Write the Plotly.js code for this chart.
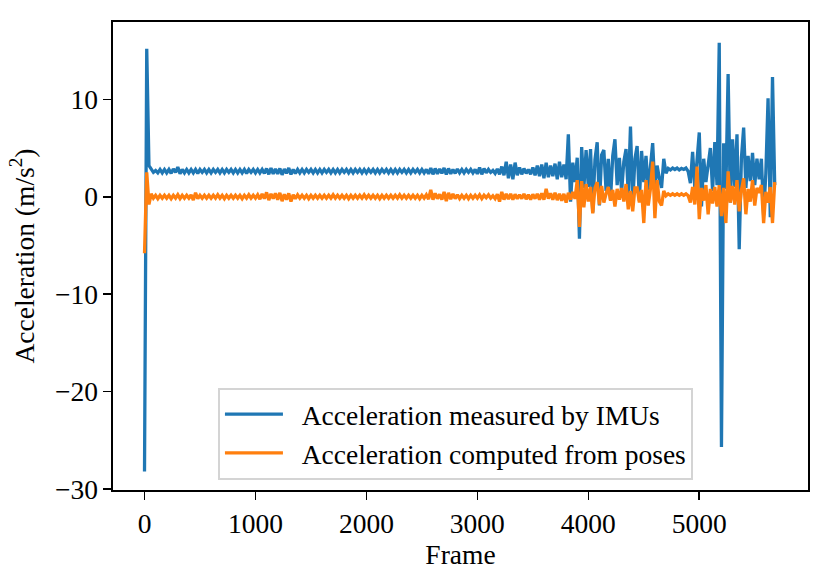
<!DOCTYPE html>
<html>
<head>
<meta charset="utf-8">
<script src="https://cdn.plot.ly/plotly-3.0.1.min.js"></script>
<style>html,body{margin:0;padding:0;background:#fff;}#chart{width:830px;height:571px;}</style>
</head>
<body>
<div id="chart"></div>
<script>
// Frames are sampled every 20 frames starting at frame 0
var frameStart = 0;
var frameStep = 20;

var seriesNames = ["Acceleration measured by IMUs", "Acceleration computed from poses"];

var imuAccel = [
  -28.2, 15.2, 3.2, 2.8, 2.5, 2.7, 2.45, 2.8, 2.45, 2.8,
  2.45, 2.8, 2.4, 2.85, 2.5, 3.05, 2.35, 2.8, 2.45, 2.8,
  2.45, 2.8, 2.45, 2.8, 2.4, 2.8, 2.5, 2.8, 2.45, 2.8,
  2.45, 2.8, 2.5, 2.8, 2.45, 2.8, 2.45, 2.8, 2.5, 2.8,
  2.45, 2.8, 2.45, 2.8, 2.45, 2.8, 2.4, 2.8, 2.5, 2.8,
  2.45, 2.8, 2.45, 2.8, 2.4, 2.9, 2.3, 2.95, 2.35, 2.85,
  2.35, 2.9, 2.25, 2.85, 2.4, 2.95, 2.3, 2.8, 2.4, 2.8,
  2.45, 2.8, 2.45, 2.8, 2.5, 2.8, 2.45, 2.8, 2.45, 2.8,
  2.45, 2.8, 2.5, 2.8, 2.45, 2.8, 2.45, 2.8, 2.45, 2.8,
  2.5, 2.8, 2.45, 2.8, 2.45, 2.8, 2.5, 2.8, 2.45, 2.8,
  2.45, 2.8, 2.5, 2.8, 2.45, 2.8, 2.45, 2.8, 2.5, 2.8,
  2.45, 2.8, 2.45, 2.8, 2.45, 2.8, 2.5, 2.8, 2.45, 2.8,
  2.45, 2.8, 2.5, 2.8, 2.45, 2.8, 2.45, 2.8, 2.35, 2.95,
  2.3, 2.9, 2.35, 2.85, 2.4, 2.95, 2.3, 2.9, 2.35, 2.8,
  2.4, 2.85, 2.45, 2.8, 2.45, 2.8, 2.5, 2.8, 2.45, 2.8,
  2.35, 3.0, 2.3, 2.9, 2.45, 2.8, 2.5, 2.7, 2.4, 2.85,
  2.3, 3.1, 2.2, 3.6, 1.9, 3.3, 1.8, 3.5, 2.2, 3.0,
  2.3, 2.9, 2.4, 2.8, 2.3, 3.0, 2.2, 3.2, 2.1, 3.3,
  1.9, 3.5, 2.0, 3.2, 2.1, 3.4, 1.8, 3.6, 2.0, 3.3,
  1.8, 6.4, -0.5, 3.5, 1.5, 4.0, -4.3, 5.1, 0.9, 4.8,
  1.0, 4.9, -1.6, 3.8, 5.6, -0.9, 4.3, 4.8, 0.6, 3.9,
  -0.3, 4.2, 5.9, 1.2, 4.0, 0.5, 3.6, 4.9, 0.3, 7.2,
  -0.8, 3.9, 5.2, -0.4, 4.7, 1.5, 4.2, 0.7, 3.5, 5.5,
  0.8, 3.2, 1.9, 0.9, 3.9, 2.4, 2.9, 2.75, 2.95, 2.8,
  2.95, 2.75, 2.9, 2.8, 2.95, 2.6, 1.4, 4.6, 0.9, 3.8,
  6.6, -1.0, 3.9, 1.5, 3.2, 5.0, 0.6, 5.6, 1.2, 15.8,
  -25.7, 5.5, 0.8, 12.6, -0.6, 5.9, 1.0, 6.4, -5.4, 4.0,
  7.1, 0.9, 4.2, 1.6, 4.5, 1.2, 3.9, 1.8, 3.9, -1.9,
  2.4, 10.1, -2.1, 12.3, 1.2
];

var poseAccel = [
  -5.8, 2.5, -0.8, 0.3, -0.15, 0.15, -0.2, 0.15, -0.15, 0.15,
  -0.15, 0.15, -0.2, 0.15, -0.15, 0.2, -0.2, 0.15, -0.15, 0.15,
  -0.15, 0.2, -0.35, 0.4, -0.2, 0.15, -0.15, 0.15, -0.15, 0.15,
  -0.15, 0.15, -0.15, 0.2, -0.15, 0.15, -0.2, 0.15, -0.15, 0.15,
  -0.15, 0.15, -0.15, 0.15, -0.2, 0.15, -0.15, 0.2, -0.15, 0.15,
  -0.15, 0.2, -0.25, 0.3, -0.2, 0.45, -0.35, 0.3, -0.2, 0.35,
  -0.3, 0.4, -0.45, 0.25, -0.3, 0.35, -0.5, 0.2, -0.2, 0.2,
  -0.15, 0.15, -0.15, 0.15, -0.2, 0.15, -0.15, 0.15, -0.15, 0.15,
  -0.15, 0.15, -0.15, 0.15, -0.15, 0.2, -0.15, 0.15, -0.15, 0.15,
  -0.15, 0.15, -0.2, 0.15, -0.15, 0.15, -0.15, 0.15, -0.15, 0.2,
  -0.15, 0.15, -0.15, 0.15, -0.15, 0.15, -0.2, 0.15, -0.15, 0.15,
  -0.15, 0.15, -0.15, 0.15, -0.15, 0.2, -0.15, 0.15, -0.15, 0.15,
  -0.15, 0.15, -0.15, 0.15, -0.2, 0.15, -0.15, 0.2, -0.25, 0.7,
  -0.3, 0.35, -0.2, 0.25, -0.3, 0.5, -0.45, 0.4, -0.25, 0.3,
  -0.2, 0.2, -0.2, 0.15, -0.15, 0.15, -0.2, 0.15, -0.15, 0.15,
  -0.15, 0.2, -0.2, 0.15, -0.1, 0.2, -0.15, 0.1, -0.2, 0.25,
  -0.5, 0.5, -0.3, 0.3, -0.25, 0.3, -0.3, 0.25, -0.2, 0.2,
  -0.2, 0.3, -0.25, 0.2, -0.3, 0.25, -0.2, 0.3, -0.3, 0.35,
  -0.3, 0.8, -0.2, 0.35, -0.3, 0.4, -0.35, 0.3, -0.4, 0.3,
  -0.6, 0.4, -0.3, 0.5, -0.2, 1.7, -3.1, 1.6, -1.1, 1.3,
  -0.5, 1.0, -1.7, 0.9, 1.5, -0.8, 1.1, -0.6, 0.3, 1.0,
  -0.4, 0.7, -1.0, 0.8, -0.3, 0.9, -0.5, 1.3, -1.3, 0.6,
  -1.5, 0.9, 0.9, -0.6, 0.7, -2.7, 1.7, -0.9, 0.8, 3.6,
  -2.2, 1.7, -0.5, -0.9, 0.6, 0.1, 0.3, 0.15, 0.3, 0.15,
  0.3, 0.15, 0.3, 0.15, 0.3, 0.1, -0.6, 1.0, -0.8, 3.1,
  -2.3, 0.9, -0.4, 1.2, -1.8, 0.8, -0.7, 1.0, -1.0, 1.2,
  -2.0, 0.9, -2.7, 2.6, -0.6, 1.1, -0.8, 1.7, -1.5, 0.7,
  1.9, -1.8, 0.8, -0.5, 1.7, -0.9, 0.9, 0.4, 1.2, -2.7,
  0.5, -0.6, 1.0, -2.7, 1.5
];

var xTickVals = [0, 1000, 2000, 3000, 4000, 5000];
var yTickVals = [-30, -20, -10, 0, 10];

var FONT = "Liberation Serif, Times New Roman, serif";
var FS = 27.5;

var traces = [
  {
    type: "scatter", mode: "lines", name: "\u00a0\u00a0" + seriesNames[0], legendgroup: "a",
    x0: frameStart, dx: frameStep, y: imuAccel,
    line: {color: "#1f77b4", width: 3.3}
  },
  {
    type: "scatter", mode: "lines", name: "\u00a0\u00a0" + seriesNames[1], legendgroup: "b",
    x0: frameStart, dx: frameStep, y: poseAccel,
    line: {color: "#ff7f0e", width: 3.3}
  }
];

var layout = {
  width: 830, height: 571,
  margin: {l: 113, r: 22, t: 22, b: 81},
  paper_bgcolor: "#ffffff", plot_bgcolor: "#ffffff",
  font: {family: FONT, size: FS, color: "#000000"},
  showlegend: true,
  legend: {
    x: 0.151, y: 0.022, xanchor: "left", yanchor: "bottom",
    bgcolor: "rgba(255,255,255,0.85)", bordercolor: "#d4d4d4", borderwidth: 2,
    font: {family: FONT, size: FS, color: "#000000"},
    itemwidth: 58, tracegroupgap: 2, traceorder: "normal"
  },
  xaxis: {
    range: [-284, 5980], tickvals: xTickVals,
    showgrid: false, zeroline: false,
    showline: true, mirror: true, linecolor: "#000000", linewidth: 1.6,
    ticks: "outside", ticklen: 8, tickwidth: 1.6, tickcolor: "#000000",
    tickfont: {family: FONT, size: FS, color: "#000000"},
    title: {text: "Frame", font: {family: FONT, size: FS, color: "#000000"}, standoff: 6}
  },
  yaxis: {
    range: [-30.11, 17.94], tickvals: yTickVals,
    showgrid: false, zeroline: false,
    showline: true, mirror: true, linecolor: "#000000", linewidth: 1.6,
    ticks: "outside", ticklen: 8, tickwidth: 1.6, tickcolor: "#000000",
    tickfont: {family: FONT, size: FS, color: "#000000"},
    title: {text: "Acceleration (m/s<sup>2</sup>)", font: {family: FONT, size: FS, color: "#000000"}, standoff: 12}
  }
};

Plotly.newPlot("chart", traces, layout, {displayModeBar: false, staticPlot: true});
</script>
</body>
</html>
